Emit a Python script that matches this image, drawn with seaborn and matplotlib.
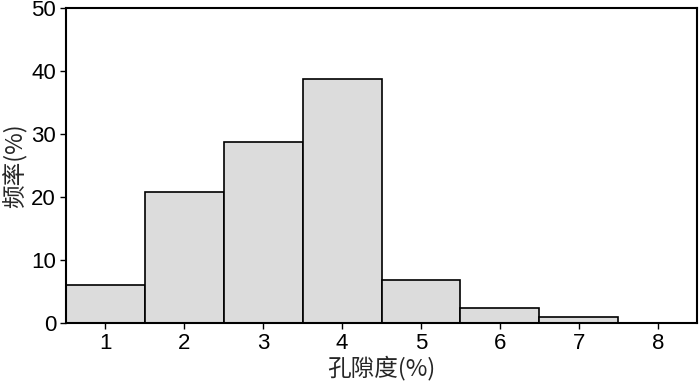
import numpy as np
import pandas as pd
import matplotlib
matplotlib.use("Agg")
import matplotlib.pyplot as plt
import seaborn as sns

# porosity classes and frequency (%)
porosity = ["1", "2", "3", "4", "5", "6", "7", "8"]
frequency = [6.0, 20.8, 28.7, 38.7, 6.8, 2.4, 0.9, 0.0]

df = pd.DataFrame({"porosity": porosity, "frequency": frequency})

sns.set_style("ticks")
plt.rcParams['font.family'] = ['Liberation Sans', 'Noto Sans CJK SC', 'DejaVu Sans']

fig = plt.figure(figsize=(7, 3.82), dpi=100)
ax = fig.add_axes([0.094, 0.154, 0.902, 0.825])

sns.barplot(data=df, x="porosity", y="frequency", color="#dcdcdc",
            edgecolor="black", linewidth=1.2, width=1.0, saturation=1, ax=ax)

ax.set_xlim(-0.5, 7.5)
ax.set_ylim(0, 50)
ax.set_yticks([0, 10, 20, 30, 40, 50])

for s in ax.spines.values():
    s.set_visible(True)
    s.set_linewidth(1.5)
    s.set_color("black")

ax.tick_params(axis="both", direction="out", length=4, width=1, labelsize=16,
               colors="black", pad=3)
ax.set_xlabel("孔隙度(%)", fontsize=17, family=['Noto Sans CJK SC', 'DejaVu Sans'], labelpad=1)
ax.set_ylabel("频率(%)", fontsize=17, family=['Noto Sans CJK SC', 'DejaVu Sans'], labelpad=3)

fig.savefig("out.png", dpi=100)
